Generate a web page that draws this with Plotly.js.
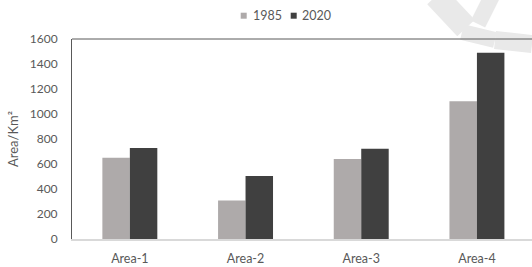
<!DOCTYPE html>
<html><head><meta charset="utf-8">
<script src="https://cdn.plot.ly/plotly-3.0.1.min.js"></script>
<style>html,body{margin:0;padding:0;background:#fff;}#chart{width:532px;height:267px;}</style>
</head><body><div id="chart"></div>
<script>
var categories = ["Area-1", "Area-2", "Area-3", "Area-4"];
var values1985 = [651, 309, 640, 1103];
var values2020 = [728, 504, 723, 1490];
var yTicks = [0, 200, 400, 600, 800, 1000, 1200, 1400, 1600];
var seriesNames = ["1985", "2020"];
var seriesColors = ["#aeaaaa", "#404040"];

var FAM = "Lato, 'Open Sans', sans-serif";
var TXT = "#595959";
var WM = "#e9e9e9";
// pixel -> paper helpers (plot area: left 72, width 460, bottom 239, height 200)
function px(x) { return (x - 72) / 460; }
function py(y) { return (239 - y) / 200; }
function seg(x0, y0, x1, y1, w) {
  return {type: "line", xref: "paper", yref: "paper", x0: px(x0), y0: py(y0), x1: px(x1), y1: py(y1),
          line: {color: WM, width: w}};
}

var data = [
  {type: "bar", name: seriesNames[0], x: categories, y: values1985, marker: {color: seriesColors[0]}, hoverinfo: "skip", showlegend: false},
  {type: "bar", name: seriesNames[1], x: categories, y: values2020, marker: {color: seriesColors[1]}, hoverinfo: "skip", showlegend: false}
];

var layout = {
  width: 532, height: 267,
  margin: {l: 72, r: 0, t: 39, b: 28, pad: 0},
  paper_bgcolor: "#fff", plot_bgcolor: "rgba(0,0,0,0)",
  font: {family: FAM, size: 12, color: TXT},
  barmode: "group", bargap: 0.525, bargroupgap: 0,
  showlegend: false,
  xaxis: {type: "category", range: [-0.5, 3.476], showgrid: false, zeroline: false,
          showline: true, linecolor: "#d9d9d9", linewidth: 1.5,
          ticks: "outside", ticklen: 7, tickcolor: "rgba(0,0,0,0)",
          tickfont: {family: FAM, size: 12.5, color: TXT}},
  yaxis: {range: [0, 1600], tickvals: yTicks, showgrid: false, zeroline: false,
          showline: true, linecolor: "#595959", linewidth: 1,
          ticks: "outside", ticklen: 11, tickcolor: "rgba(0,0,0,0)",
          tickfont: {family: FAM, size: 12, color: TXT},
          title: {text: "Area/Km²", font: {family: FAM, size: 13, color: TXT}, standoff: 8}},
  shapes: [
    seg(436, -4, 466, 28, 24),
    seg(492, -4, 478, 24, 16),
    seg(462, 32, 495, 40, 16),
    seg(495, 40, 532, 44, 18),
    {type: "line", xref: "paper", yref: "paper", x0: 0, x1: 1, y0: 1, y1: 1, line: {color: "#595959", width: 1}},
    {type: "rect", xref: "paper", yref: "paper", x0: px(240.7), x1: px(246.7), y0: py(18.7), y1: py(12.7), fillcolor: seriesColors[0], line: {width: 0}},
    {type: "rect", xref: "paper", yref: "paper", x0: px(290.7), x1: px(296.7), y0: py(18.7), y1: py(12.7), fillcolor: seriesColors[1], line: {width: 0}}
  ],
  annotations: [
    {xref: "paper", yref: "paper", x: px(250.5), y: py(15.7), xanchor: "left", yanchor: "middle", showarrow: false,
     text: seriesNames[0], font: {family: FAM, size: 12.5, color: TXT}},
    {xref: "paper", yref: "paper", x: px(300), y: py(15.7), xanchor: "left", yanchor: "middle", showarrow: false,
     text: seriesNames[1], font: {family: FAM, size: 12.5, color: TXT}}
  ]
};
Plotly.newPlot("chart", data, layout, {staticPlot: true, displayModeBar: false});
</script></body></html>
